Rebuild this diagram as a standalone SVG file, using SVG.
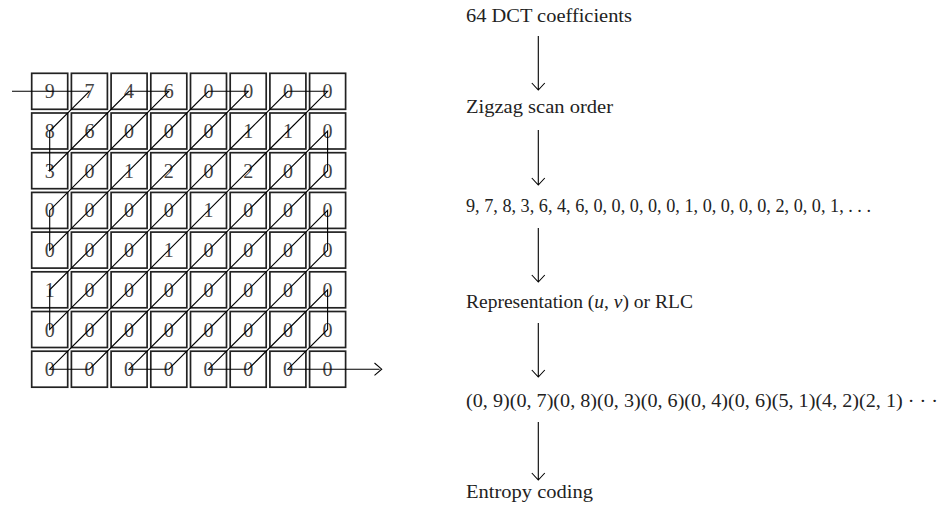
<svg xmlns="http://www.w3.org/2000/svg" width="944" height="509" viewBox="0 0 944 509">
<style>
.cell rect{fill:#fff;stroke:#222;stroke-width:1.7}
.cell text{font-family:"Liberation Serif",serif;font-size:20px;fill:#444;text-anchor:middle}
.lbl{font-family:"Liberation Serif",serif;font-size:19.5px;fill:#222}
.ln{fill:none;stroke:#000;stroke-width:1.1}
</style>
<rect width="944" height="509" fill="#fff"/>
<g id="grid">
<g id="r0">
<g id="c00" class="cell"><rect x="31.7" y="73.3" width="36" height="36"/><text x="49.7" y="98.3">9</text></g>
<g id="c01" class="cell"><rect x="71.4" y="73.3" width="36" height="36"/><text x="89.4" y="98.3">7</text></g>
<g id="c02" class="cell"><rect x="111.1" y="73.3" width="36" height="36"/><text x="129.1" y="98.3">4</text></g>
<g id="c03" class="cell"><rect x="150.8" y="73.3" width="36" height="36"/><text x="168.8" y="98.3">6</text></g>
<g id="c04" class="cell"><rect x="190.5" y="73.3" width="36" height="36"/><text x="208.5" y="98.3">0</text></g>
<g id="c05" class="cell"><rect x="230.2" y="73.3" width="36" height="36"/><text x="248.2" y="98.3">0</text></g>
<g id="c06" class="cell"><rect x="269.9" y="73.3" width="36" height="36"/><text x="287.9" y="98.3">0</text></g>
<g id="c07" class="cell"><rect x="309.6" y="73.3" width="36" height="36"/><text x="327.6" y="98.3">0</text></g>
</g>
<g id="r1">
<g id="c10" class="cell"><rect x="31.7" y="113" width="36" height="36"/><text x="49.7" y="138">8</text></g>
<g id="c11" class="cell"><rect x="71.4" y="113" width="36" height="36"/><text x="89.4" y="138">6</text></g>
<g id="c12" class="cell"><rect x="111.1" y="113" width="36" height="36"/><text x="129.1" y="138">0</text></g>
<g id="c13" class="cell"><rect x="150.8" y="113" width="36" height="36"/><text x="168.8" y="138">0</text></g>
<g id="c14" class="cell"><rect x="190.5" y="113" width="36" height="36"/><text x="208.5" y="138">0</text></g>
<g id="c15" class="cell"><rect x="230.2" y="113" width="36" height="36"/><text x="248.2" y="138">1</text></g>
<g id="c16" class="cell"><rect x="269.9" y="113" width="36" height="36"/><text x="287.9" y="138">1</text></g>
<g id="c17" class="cell"><rect x="309.6" y="113" width="36" height="36"/><text x="327.6" y="138">0</text></g>
</g>
<g id="r2">
<g id="c20" class="cell"><rect x="31.7" y="152.7" width="36" height="36"/><text x="49.7" y="177.7">3</text></g>
<g id="c21" class="cell"><rect x="71.4" y="152.7" width="36" height="36"/><text x="89.4" y="177.7">0</text></g>
<g id="c22" class="cell"><rect x="111.1" y="152.7" width="36" height="36"/><text x="129.1" y="177.7">1</text></g>
<g id="c23" class="cell"><rect x="150.8" y="152.7" width="36" height="36"/><text x="168.8" y="177.7">2</text></g>
<g id="c24" class="cell"><rect x="190.5" y="152.7" width="36" height="36"/><text x="208.5" y="177.7">0</text></g>
<g id="c25" class="cell"><rect x="230.2" y="152.7" width="36" height="36"/><text x="248.2" y="177.7">2</text></g>
<g id="c26" class="cell"><rect x="269.9" y="152.7" width="36" height="36"/><text x="287.9" y="177.7">0</text></g>
<g id="c27" class="cell"><rect x="309.6" y="152.7" width="36" height="36"/><text x="327.6" y="177.7">0</text></g>
</g>
<g id="r3">
<g id="c30" class="cell"><rect x="31.7" y="192.4" width="36" height="36"/><text x="49.7" y="217.4">0</text></g>
<g id="c31" class="cell"><rect x="71.4" y="192.4" width="36" height="36"/><text x="89.4" y="217.4">0</text></g>
<g id="c32" class="cell"><rect x="111.1" y="192.4" width="36" height="36"/><text x="129.1" y="217.4">0</text></g>
<g id="c33" class="cell"><rect x="150.8" y="192.4" width="36" height="36"/><text x="168.8" y="217.4">0</text></g>
<g id="c34" class="cell"><rect x="190.5" y="192.4" width="36" height="36"/><text x="208.5" y="217.4">1</text></g>
<g id="c35" class="cell"><rect x="230.2" y="192.4" width="36" height="36"/><text x="248.2" y="217.4">0</text></g>
<g id="c36" class="cell"><rect x="269.9" y="192.4" width="36" height="36"/><text x="287.9" y="217.4">0</text></g>
<g id="c37" class="cell"><rect x="309.6" y="192.4" width="36" height="36"/><text x="327.6" y="217.4">0</text></g>
</g>
<g id="r4">
<g id="c40" class="cell"><rect x="31.7" y="232.1" width="36" height="36"/><text x="49.7" y="257.1">0</text></g>
<g id="c41" class="cell"><rect x="71.4" y="232.1" width="36" height="36"/><text x="89.4" y="257.1">0</text></g>
<g id="c42" class="cell"><rect x="111.1" y="232.1" width="36" height="36"/><text x="129.1" y="257.1">0</text></g>
<g id="c43" class="cell"><rect x="150.8" y="232.1" width="36" height="36"/><text x="168.8" y="257.1">1</text></g>
<g id="c44" class="cell"><rect x="190.5" y="232.1" width="36" height="36"/><text x="208.5" y="257.1">0</text></g>
<g id="c45" class="cell"><rect x="230.2" y="232.1" width="36" height="36"/><text x="248.2" y="257.1">0</text></g>
<g id="c46" class="cell"><rect x="269.9" y="232.1" width="36" height="36"/><text x="287.9" y="257.1">0</text></g>
<g id="c47" class="cell"><rect x="309.6" y="232.1" width="36" height="36"/><text x="327.6" y="257.1">0</text></g>
</g>
<g id="r5">
<g id="c50" class="cell"><rect x="31.7" y="271.8" width="36" height="36"/><text x="49.7" y="296.8">1</text></g>
<g id="c51" class="cell"><rect x="71.4" y="271.8" width="36" height="36"/><text x="89.4" y="296.8">0</text></g>
<g id="c52" class="cell"><rect x="111.1" y="271.8" width="36" height="36"/><text x="129.1" y="296.8">0</text></g>
<g id="c53" class="cell"><rect x="150.8" y="271.8" width="36" height="36"/><text x="168.8" y="296.8">0</text></g>
<g id="c54" class="cell"><rect x="190.5" y="271.8" width="36" height="36"/><text x="208.5" y="296.8">0</text></g>
<g id="c55" class="cell"><rect x="230.2" y="271.8" width="36" height="36"/><text x="248.2" y="296.8">0</text></g>
<g id="c56" class="cell"><rect x="269.9" y="271.8" width="36" height="36"/><text x="287.9" y="296.8">0</text></g>
<g id="c57" class="cell"><rect x="309.6" y="271.8" width="36" height="36"/><text x="327.6" y="296.8">0</text></g>
</g>
<g id="r6">
<g id="c60" class="cell"><rect x="31.7" y="311.5" width="36" height="36"/><text x="49.7" y="336.5">0</text></g>
<g id="c61" class="cell"><rect x="71.4" y="311.5" width="36" height="36"/><text x="89.4" y="336.5">0</text></g>
<g id="c62" class="cell"><rect x="111.1" y="311.5" width="36" height="36"/><text x="129.1" y="336.5">0</text></g>
<g id="c63" class="cell"><rect x="150.8" y="311.5" width="36" height="36"/><text x="168.8" y="336.5">0</text></g>
<g id="c64" class="cell"><rect x="190.5" y="311.5" width="36" height="36"/><text x="208.5" y="336.5">0</text></g>
<g id="c65" class="cell"><rect x="230.2" y="311.5" width="36" height="36"/><text x="248.2" y="336.5">0</text></g>
<g id="c66" class="cell"><rect x="269.9" y="311.5" width="36" height="36"/><text x="287.9" y="336.5">0</text></g>
<g id="c67" class="cell"><rect x="309.6" y="311.5" width="36" height="36"/><text x="327.6" y="336.5">0</text></g>
</g>
<g id="r7">
<g id="c70" class="cell"><rect x="31.7" y="351.2" width="36" height="36"/><text x="49.7" y="376.2">0</text></g>
<g id="c71" class="cell"><rect x="71.4" y="351.2" width="36" height="36"/><text x="89.4" y="376.2">0</text></g>
<g id="c72" class="cell"><rect x="111.1" y="351.2" width="36" height="36"/><text x="129.1" y="376.2">0</text></g>
<g id="c73" class="cell"><rect x="150.8" y="351.2" width="36" height="36"/><text x="168.8" y="376.2">0</text></g>
<g id="c74" class="cell"><rect x="190.5" y="351.2" width="36" height="36"/><text x="208.5" y="376.2">0</text></g>
<g id="c75" class="cell"><rect x="230.2" y="351.2" width="36" height="36"/><text x="248.2" y="376.2">0</text></g>
<g id="c76" class="cell"><rect x="269.9" y="351.2" width="36" height="36"/><text x="287.9" y="376.2">0</text></g>
<g id="c77" class="cell"><rect x="309.6" y="351.2" width="36" height="36"/><text x="327.6" y="376.2">0</text></g>
</g>
</g>
<g id="labels">
<text id="n1" class="lbl" x="466" y="22" textLength="166" lengthAdjust="spacingAndGlyphs">64 DCT coefficients</text>
<text id="n2" class="lbl" x="466" y="113" textLength="147" lengthAdjust="spacingAndGlyphs">Zigzag scan order</text>
<text id="n3" class="lbl" x="466" y="212" textLength="405" lengthAdjust="spacingAndGlyphs">9, 7, 8, 3, 6, 4, 6, 0, 0, 0, 0, 0, 1, 0, 0, 0, 0, 2, 0, 0, 1, . . .</text>
<text id="n4" class="lbl" x="466" y="308">Representation (<tspan font-style="italic">u</tspan>, <tspan font-style="italic">v</tspan>) or RLC</text>
<text id="n5" class="lbl" x="466" y="407" textLength="472" lengthAdjust="spacingAndGlyphs">(0, 9)(0, 7)(0, 8)(0, 3)(0, 6)(0, 4)(0, 6)(5, 1)(4, 2)(2, 1) · · ·</text>
<text id="n6" class="lbl" x="466" y="498" textLength="127" lengthAdjust="spacingAndGlyphs">Entropy coding</text>
</g>
<g id="connectors">
<g transform="translate(49.7 91.3) scale(39.7)">
<polyline fill="none" stroke="#000" stroke-width="0.028" stroke-linejoin="miter" points="-0.95,0 0,0 1,0 0,1 0,2 1,1 2,0 3,0 2,1 1,2 0,3 0,4 1,3 2,2 3,1 4,0 5,0 4,1 3,2 2,3 1,4 0,5 0,6 1,5 2,4 3,3 4,2 5,1 6,0 7,0 6,1 5,2 4,3 3,4 2,5 1,6 0,7 1,7 2,6 3,5 4,4 5,3 6,2 7,1 7,2 6,3 5,4 4,5 3,6 2,7 3,7 4,6 5,5 6,4 7,3 7,4 6,5 5,6 4,7 5,7 6,6 7,5 7,6 6,7 7,7 8.31,7"/>
</g>
<path class="ln" d="M374.5,363 L381.7,369.2 L374.5,375.4"/>
<path class="ln" d="M538.3,36 V90 M531.8,83 L538.3,90 L544.8,83"/>
<path class="ln" d="M538.3,130 V185 M531.8,178 L538.3,185 L544.8,178"/>
<path class="ln" d="M538.3,228 V282 M531.8,275 L538.3,282 L544.8,275"/>
<path class="ln" d="M538.3,323 V377 M531.8,370 L538.3,377 L544.8,370"/>
<path class="ln" d="M538.3,422 V480 M531.8,473 L538.3,480 L544.8,473"/>
</g>
</svg>
